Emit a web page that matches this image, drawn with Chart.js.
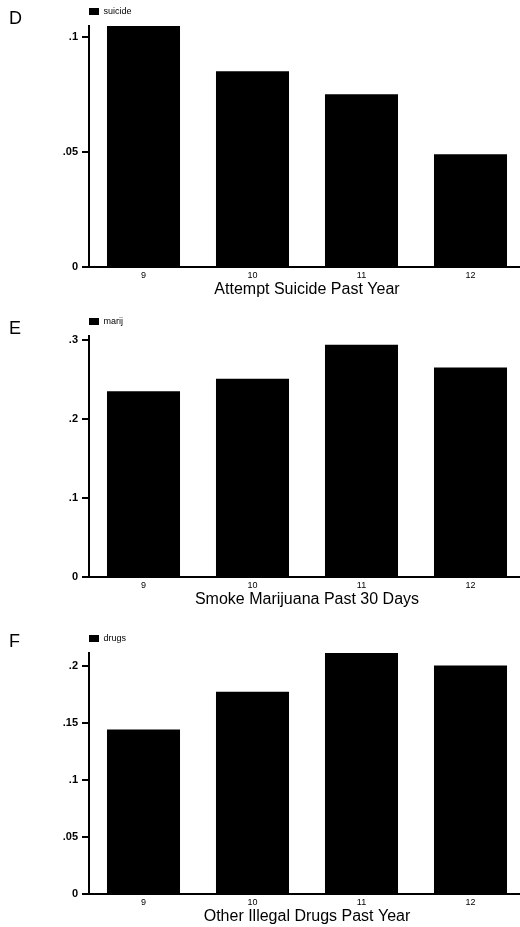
<!DOCTYPE html>
<html>
<head>
<meta charset="utf-8">
<script src="https://cdn.jsdelivr.net/npm/chart.js@4/dist/chart.umd.min.js"></script>
<style>
  html, body { margin: 0; padding: 0; background: #fff; overflow: hidden; }
  body { width: 520px; height: 927px; position: relative; }
  .panel { position: absolute; left: 0; width: 530px; height: 300px; }
  .letter { position: absolute; left: 9px; font: 18px "Liberation Sans", Arial, sans-serif; line-height: 18px; color: #000; }
  canvas { position: absolute; left: 0; top: 0; }
</style>
</head>
<body>
<div class="panel" style="top:0px">
  <canvas id="chart-d" width="530" height="300"></canvas>
  <div class="letter" style="top:9px">D</div>
</div>
<div class="panel" style="top:310px">
  <canvas id="chart-e" width="530" height="300"></canvas>
  <div class="letter" style="top:9px">E</div>
</div>
<div class="panel" style="top:627px">
  <canvas id="chart-f" width="530" height="300"></canvas>
  <div class="letter" style="top:5px">F</div>
</div>
<script>
const grades = ["9", "10", "11", "12"];

const suicide = [0.1047, 0.085, 0.075, 0.049];
const marij = [0.235, 0.251, 0.294, 0.265];
const drugs = [0.144, 0.177, 0.211, 0.200];

const suicideTicks = [0, 0.05, 0.1];
const marijTicks = [0, 0.1, 0.2, 0.3];
const drugsTicks = [0, 0.05, 0.1, 0.15, 0.2];

Chart.defaults.font.family = "'Liberation Sans', Arial, Helvetica, sans-serif";
Chart.defaults.color = "#000";

function formatTick(v) {
  // stata style: .05 instead of 0.05
  if (v === 0) return "0";
  return String(+v.toFixed(3)).replace(/^0\./, ".");
}

function buildPanel(canvasId, label, values, yTicks, yMax, title) {
  const ctx = document.getElementById(canvasId);
  return new Chart(ctx, {
    type: "bar",
    data: {
      labels: grades,
      datasets: [{
        label,
        data: values,
        backgroundColor: "#000",
        borderWidth: 0,
        barPercentage: 0.67,
        categoryPercentage: 1
      }]
    },
    options: {
      responsive: false,
      animation: false,
      layout: { padding: { top: 7, right: 5, bottom: 1, left: 0 } },
      plugins: {
        legend: {
          position: "top",
          align: "start",
          fullSize: false,
          labels: { boxWidth: 10, boxHeight: 7, padding: 0, font: { size: 9 }, color: "#000" }
        },
        tooltip: { enabled: false }
      },
      scales: {
        x: {
          grid: { display: false, drawTicks: false },
          border: { display: true, color: "#000", width: 2 },
          ticks: { padding: 3, font: { size: 9 }, color: "#000", maxRotation: 0 },
          title: { display: true, text: title, font: { size: 16 }, color: "#000", padding: 0 },
          afterFit: (s) => { s.height = 32; }
        },
        y: {
          min: 0,
          max: yMax,
          grid: { drawOnChartArea: false, drawTicks: true, tickLength: 7, color: "#000", lineWidth: 2 },
          border: { display: true, color: "#000", width: 2 },
          ticks: { padding: 4, font: { size: 11, weight: "bold" }, color: "#000", callback: formatTick },
          afterBuildTicks: (s) => { s.ticks = yTicks.map((v) => ({ value: v })); },
          afterFit: (s) => { s.width = 89; }
        }
      }
    }
  });
}

buildPanel("chart-d", "suicide", suicide, suicideTicks, 0.1047, "Attempt Suicide Past Year");
buildPanel("chart-e", "marij", marij, marijTicks, 0.305, "Smoke Marijuana Past 30 Days");
buildPanel("chart-f", "drugs", drugs, drugsTicks, 0.211, "Other Illegal Drugs Past Year");
</script>
</body>
</html>
